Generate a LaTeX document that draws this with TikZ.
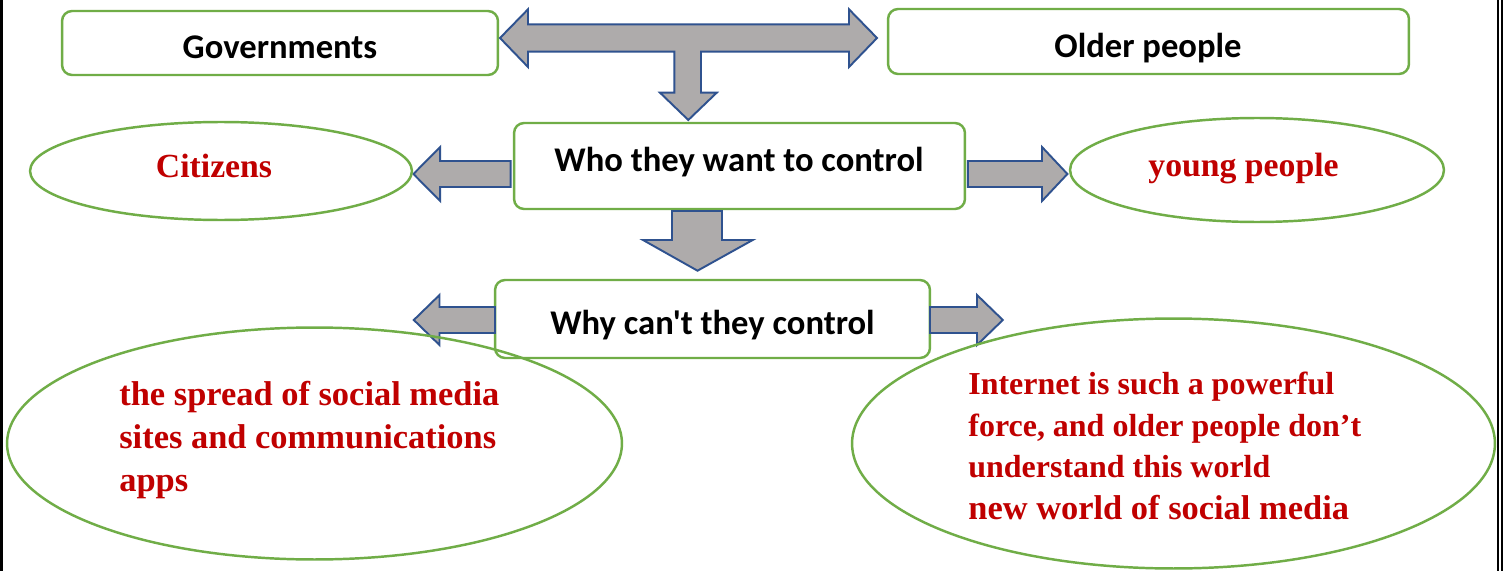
\documentclass[tikz,border=0pt]{standalone}
\usepackage{fontspec}
\usetikzlibrary{shapes.geometric}
\newfontfamily\calib{Carlito}
\newfontfamily\tnr{Liberation Serif}
\definecolor{grn}{HTML}{70AD47}
\definecolor{ablue}{HTML}{2F528F}
\definecolor{agray}{HTML}{AEABAB}
\definecolor{dred}{HTML}{C00000}
\begin{document}
\begin{tikzpicture}[x=0.02cm,y=-0.02cm,
  boxnode/.style={draw=grn, line width=1.4pt, rounded corners=0.2cm, fill=white, inner sep=0pt},
  ellnode/.style={ellipse, draw=grn, line width=1.4pt, inner sep=0pt},
  barrow/.style={draw=ablue, fill=agray, line width=1.1pt, line join=miter},
  lbl/.style={font=\calib\bfseries\fontsize{19.7}{24}\selectfont, inner sep=0pt, text=black},
  redtxt/.style={font=\tnr\bfseries\fontsize{19.2}{24.5}\selectfont, text=dred, inner sep=0pt, align=left},
  frame/.style={draw=black, line width=#1}]
\useasboundingbox (0,0) rectangle (1504,571);
\fill[white] (0,0) rectangle (1504,571);
% boxes
\node[boxnode, minimum width=8.72cm, minimum height=1.28cm] (gov) at (280,43) {};
\node[boxnode, minimum width=10.42cm, minimum height=1.3cm] (old) at (1148.5,41.5) {};
\node[boxnode, minimum width=9.02cm, minimum height=1.72cm] (who) at (739.5,166) {};
\node[boxnode, minimum width=8.7cm, minimum height=1.56cm] (why) at (712.5,319) {};
% block arrows
\draw[barrow] (500,38) -- (528,9.3) -- (528,24.3) -- (849,24.3) -- (849,9.3) -- (877,38)
  -- (849,67) -- (849,51.7) -- (701,51.7) -- (701,92.7) -- (716.7,92.7) -- (688.3,120)
  -- (660,92.7) -- (674.3,92.7) -- (674.3,51.7) -- (528,51.7) -- (528,67) -- cycle;
\draw[barrow] (510.7,161) -- (440.2,161) -- (440.2,147) -- (413.4,174) -- (440.2,201)
  -- (440.2,187) -- (510.7,187) -- cycle;
\draw[barrow] (967.9,161) -- (1042,161) -- (1042,147) -- (1067.4,174) -- (1042,201)
  -- (1042,187) -- (967.9,187) -- cycle;
\draw[barrow] (672,211) -- (722,211) -- (722,240) -- (752.7,240) -- (697.5,270.7)
  -- (643,240) -- (672,240) -- cycle;
\draw[barrow] (495,307) -- (439.5,307) -- (439.5,295) -- (413.8,320) -- (439.5,345)
  -- (439.5,333) -- (495,333) -- cycle;
\draw[barrow] (930,307) -- (977,307) -- (977,295) -- (1002.8,320) -- (977,345)
  -- (977,333) -- (930,333) -- cycle;
% ellipses
\node[ellnode, minimum width=7.64cm, minimum height=1.96cm] (cit) at (221,171) {};
\node[ellnode, minimum width=7.48cm, minimum height=2.08cm] (yng) at (1257,170) {};
\node[ellnode, minimum width=12.3cm, minimum height=4.64cm] (spr) at (314.5,443.5) {};
\node[ellnode, minimum width=12.86cm, minimum height=5.0cm] (inet) at (1173.5,443.5) {};
% texts
\node[lbl, anchor=base] (tgov) at (280,58.3) {Governments};
\node[lbl, anchor=base] (told) at (1148,57.5) {Older people};
\node[lbl, anchor=base] (twho) at (739,171.3) {Who they want to control};
\node[lbl, anchor=base] (twhy) at (712.5,334) {Why can't they control};
\node[redtxt, anchor=base] (tcit) at (214,177.3) {Citizens};
\node[redtxt, anchor=base] (tyng) at (1243.5,176.5) {young people};
\node[redtxt, anchor=base west, font=\tnr\bfseries\fontsize{19.6}{24.6}\selectfont] (tspr) at (119,491.7) {the spread of social media\\sites and communications\\apps};
\node[redtxt, anchor=base west, font=\tnr\bfseries\fontsize{18.2}{23.6}\selectfont] (tinet) at (968,519.3) {Internet is such a powerful\\force, and older people don’t\\understand this world\\\fontsize{19.6}{23.6}\selectfont new world of social media};
% page frame
\draw[frame=2.7*0.02cm] (1.35,0) -- (1.35,571);
\draw[frame=2*0.02cm] (1498.3,0) -- (1498.3,571);
\draw[frame=2.3*0.02cm] (1501.9,0) -- (1501.9,571);
\end{tikzpicture}
\end{document}
